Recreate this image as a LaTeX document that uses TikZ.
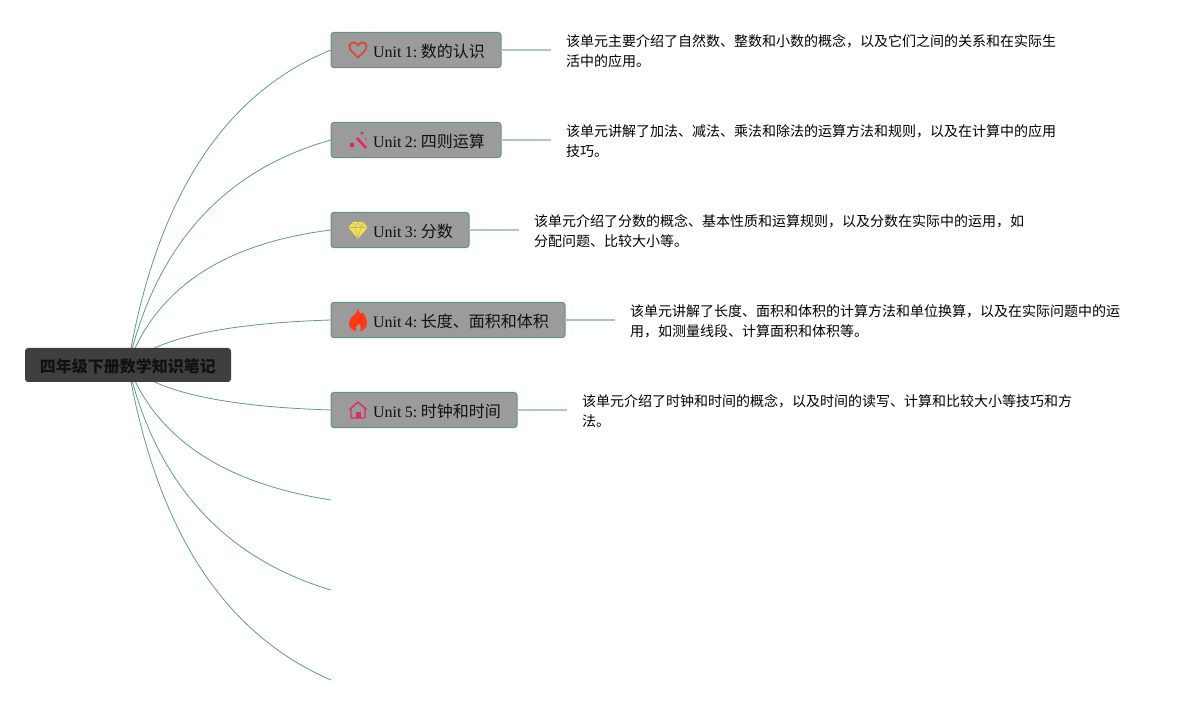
\documentclass[tikz,border=0pt]{standalone}
\usepackage{xcolor}
\usepackage{fontspec}
\setmainfont{Liberation Serif}
\newfontfamily\cjk{Noto Sans CJK SC}
\frenchspacing
\usetikzlibrary{positioning, backgrounds}
\definecolor{rootgrey}{HTML}{3F3F3F}
\definecolor{unitgrey}{HTML}{9B9B9B}
\definecolor{unitedge}{HTML}{5F9583}
\definecolor{branchgreen}{HTML}{5F9A88}
\definecolor{leafgreen}{HTML}{A8CBC0}
\definecolor{inkdark}{HTML}{111111}
\definecolor{heartred}{HTML}{D9493A}
\definecolor{wandpink}{HTML}{E8245F}
\definecolor{gemyellow}{HTML}{F2E24C}
\definecolor{flamered}{HTML}{FF3A12}
\definecolor{housered}{HTML}{D6305E}
\tikzset{
  rootbox/.style={fill=rootgrey, rounded corners=2.25pt, minimum width=154.5pt, minimum height=25.5pt, inner sep=0pt, outer sep=0pt, text=inkdark, font=\fontsize{12}{14}\selectfont\bfseries\cjk},
  unitbox/.style={draw=unitedge, line width=0.75pt, fill=unitgrey, rounded corners=2.25pt, minimum height=26.5pt, inner xsep=0pt, inner ysep=0pt, outer sep=0pt, align=left, anchor=west, text=inkdark, font=\fontsize{12}{14}\selectfont},
  notebox/.style={anchor=west, inner xsep=11.25pt, inner ysep=0pt, outer sep=0pt, align=left, text=black, font=\fontsize{10.5}{15}\selectfont\cjk},
  branch/.style={draw=branchgreen, line width=0.6pt},
  leaf/.style={draw=leafgreen, line width=1.1pt},
  pics/heartmark/.style={code={
    \draw[heartred, line width=1.4pt, line join=round] (0,7.5) .. controls (-4,3.5) and (-8.5,0) .. (-8.5,-3) .. controls (-8.5,-6.5) and (-6,-7.5) .. (-4.5,-7.5) .. controls (-2.5,-7.5) and (-1,-6.5) .. (0,-4.5) .. controls (1,-6.5) and (2.5,-7.5) .. (4.5,-7.5) .. controls (6,-7.5) and (8.5,-6.5) .. (8.5,-3) .. controls (8.5,0) and (4,3.5) .. cycle;
  }},
  pics/wandmark/.style={code={
    \draw[wandpink, line width=1.8pt] (-1,-2) -- (8,8);
    \fill[wandpink] (-6,5) circle (2.4);
    \fill[wandpink] (4,-7) circle (1.7);
    \fill[wandpink] (8,-1) circle (0.9);
  }},
  pics/gemmark/.style={code={
    \fill[gemyellow, draw=gemyellow, line width=0.75pt, line join=round] (-5,-7.5) -- (5,-7.5) -- (9,-2.5) -- (0,8) -- (-9,-2.5) -- cycle;
    \draw[unitgrey!60!gemyellow, line width=0.45pt] (-9,-2.5) -- (9,-2.5) (-3,-2.5) -- (0,8) -- (3,-2.5) (-5,-7.5) -- (-3,-2.5) -- (0,-7.5) -- (3,-2.5) -- (5,-7.5);
  }},
  pics/flamemark/.style={code={
    \fill[flamered] (0.5,-11) .. controls (1,-6) and (3,-5.5) .. (4.5,-7.5) .. controls (7,-4.5) and (9,-1) .. (9,3) .. controls (9,8) and (5,11) .. (2,11) .. controls (3.5,8.5) and (3,6) .. (0.5,3.5) .. controls (-0.5,5.5) and (-3,7) .. (-2,11) .. controls (-6,10.5) and (-9,7.5) .. (-9,3) .. controls (-9,-3) and (-1.5,-5) .. cycle;
  }},
  pics/housemark/.style={code={
    \draw[housered, line width=1.1pt, line join=round] (-8.5,-0.5) -- (0,-8) -- (8.5,-0.5) (-7,-1.5) -- (-7,8) -- (7,8) -- (7,-1.5);
    \fill[housered] (-2.5,2) rectangle (3,8);
  }}
}

\begin{document}
\begin{tikzpicture}[x=0.75pt, y=-0.75pt]
  \useasboundingbox (0,0) rectangle (1190,705);

  % Root
  \node[rootbox] (root) at (128,365) {\raisebox{-0.75pt}[\height][\depth]{四年级下册数学知识笔记}};

  % Unit boxes with their icons
  \foreach \ypos/\boxw/\iconname/\unitname/\title in {
    50/170/heartmark/unit1/{Unit 1: {\cjk 数的认识}},
    140/170/wandmark/unit2/{Unit 2: {\cjk 四则运算}},
    230/138/gemmark/unit3/{Unit 3: {\cjk 分数}},
    320/234/flamemark/unit4/{Unit 4: {\cjk 长度、面积和体积}},
    410/186/housemark/unit5/{Unit 5: {\cjk 时钟和时间}}} {
    \node[unitbox, text width=\boxw*0.75pt] (\unitname) at (331,\ypos) {\hspace*{31.5pt}\raisebox{-0.75pt}[\height][\depth]{\spaceskip=2.65pt\relax\title}};
    \pic at (358,\ypos) {\iconname};
  }

  % Free ends of the empty branches
  \coordinate (tail6) at (331,500);
  \coordinate (tail7) at (331,590);
  \coordinate (tail8) at (331,680);

  % Notes beside the units
  \foreach \unitname/\notename/\body in {
    unit1/note1/{该单元主要介绍了自然数、整数和小数的概念，以及它们之间的关系和在实际生\\活中的应用。},
    unit2/note2/{该单元讲解了加法、减法、乘法和除法的运算方法和规则，以及在计算中的应用\\技巧。},
    unit3/note3/{该单元介绍了分数的概念、基本性质和运算规则，以及分数在实际中的运用，如\\分配问题、比较大小等。},
    unit4/note4/{该单元讲解了长度、面积和体积的计算方法和单位换算，以及在实际问题中的运\\用，如测量线段、计算面积和体积等。},
    unit5/note5/{该单元介绍了时钟和时间的概念，以及时间的读写、计算和比较大小等技巧和方\\法。}} {
    \node[notebox, right=37.5pt of \unitname.east, anchor=west, yshift=-0.75pt] (\notename) {\body};
    \draw[leaf] (\unitname.east) -- (\notename.west |- \unitname.east);
  }

  % Branches behind the root
  \begin{pgfonlayer}{background}
    \foreach \target/\ctrla/\ctrlb in {unit1.west/198.3/93.3, unit2.west/245/170, unit3.west/288.3/243.3, unit4.west/338.3/323.3, unit5.west/391.7/406.7, tail6/438.3/483.3, tail7/483/558, tail8/529/634} {
      \draw[branch] (root.center) .. controls (156,\ctrla) and (223.7,\ctrlb) .. (\target);
    }
  \end{pgfonlayer}
\end{tikzpicture}
\end{document}
